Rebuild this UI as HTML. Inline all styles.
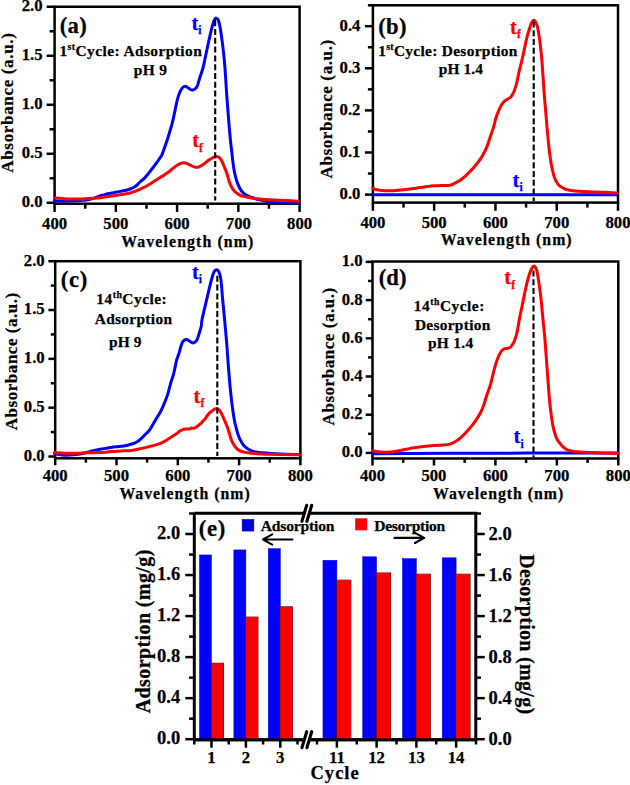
<!DOCTYPE html>
<html><head><meta charset="utf-8"><style>
html,body{margin:0;padding:0;background:#fff;}
text{stroke:#000;stroke-width:0.25px;}
body{width:630px;height:785px;position:relative;overflow:hidden;}
</style></head><body>
<svg width="630" height="785" viewBox="0 0 630 785" style="position:absolute;left:0;top:0">
<g font-family='"Liberation Serif", serif' font-weight="bold" style="paint-order:stroke">
<rect x="54.6" y="6.75" width="245.00000000000003" height="196.95" fill="none" stroke="#000" stroke-width="2.5"/>
<line x1="54.60" y1="203.70" x2="54.60" y2="211.90" stroke="#000" stroke-width="2.5" />
<line x1="85.23" y1="203.70" x2="85.23" y2="208.70" stroke="#000" stroke-width="2.5" />
<line x1="115.85" y1="203.70" x2="115.85" y2="211.90" stroke="#000" stroke-width="2.5" />
<line x1="146.48" y1="203.70" x2="146.48" y2="208.70" stroke="#000" stroke-width="2.5" />
<line x1="177.10" y1="203.70" x2="177.10" y2="211.90" stroke="#000" stroke-width="2.5" />
<line x1="207.73" y1="203.70" x2="207.73" y2="208.70" stroke="#000" stroke-width="2.5" />
<line x1="238.35" y1="203.70" x2="238.35" y2="211.90" stroke="#000" stroke-width="2.5" />
<line x1="268.98" y1="203.70" x2="268.98" y2="208.70" stroke="#000" stroke-width="2.5" />
<line x1="299.60" y1="203.70" x2="299.60" y2="211.90" stroke="#000" stroke-width="2.5" />
<text x="54.60" y="228.50" font-size="16.7" text-anchor="middle" fill="#000" >400</text>
<text x="115.85" y="228.50" font-size="16.7" text-anchor="middle" fill="#000" >500</text>
<text x="177.10" y="228.50" font-size="16.7" text-anchor="middle" fill="#000" >600</text>
<text x="238.35" y="228.50" font-size="16.7" text-anchor="middle" fill="#000" >700</text>
<text x="299.60" y="228.50" font-size="16.7" text-anchor="middle" fill="#000" >800</text>
<line x1="54.60" y1="202.80" x2="46.60" y2="202.80" stroke="#000" stroke-width="2.5" />
<line x1="54.60" y1="178.29" x2="49.60" y2="178.29" stroke="#000" stroke-width="2.5" />
<line x1="54.60" y1="153.79" x2="46.60" y2="153.79" stroke="#000" stroke-width="2.5" />
<line x1="54.60" y1="129.28" x2="49.60" y2="129.28" stroke="#000" stroke-width="2.5" />
<line x1="54.60" y1="104.78" x2="46.60" y2="104.78" stroke="#000" stroke-width="2.5" />
<line x1="54.60" y1="80.27" x2="49.60" y2="80.27" stroke="#000" stroke-width="2.5" />
<line x1="54.60" y1="55.76" x2="46.60" y2="55.76" stroke="#000" stroke-width="2.5" />
<line x1="54.60" y1="31.26" x2="49.60" y2="31.26" stroke="#000" stroke-width="2.5" />
<line x1="54.60" y1="6.75" x2="46.60" y2="6.75" stroke="#000" stroke-width="2.5" />
<text x="42.50" y="207.20" font-size="16.7" text-anchor="end" fill="#000" >0.0</text>
<text x="42.50" y="158.19" font-size="16.7" text-anchor="end" fill="#000" >0.5</text>
<text x="42.50" y="109.18" font-size="16.7" text-anchor="end" fill="#000" >1.0</text>
<text x="42.50" y="60.16" font-size="16.7" text-anchor="end" fill="#000" >1.5</text>
<text x="42.50" y="11.15" font-size="16.7" text-anchor="end" fill="#000" >2.0</text>
<rect x="372.9" y="5.3" width="245.10000000000002" height="197.29999999999998" fill="none" stroke="#000" stroke-width="2.5"/>
<line x1="372.90" y1="202.60" x2="372.90" y2="210.80" stroke="#000" stroke-width="2.5" />
<line x1="403.54" y1="202.60" x2="403.54" y2="207.60" stroke="#000" stroke-width="2.5" />
<line x1="434.17" y1="202.60" x2="434.17" y2="210.80" stroke="#000" stroke-width="2.5" />
<line x1="464.81" y1="202.60" x2="464.81" y2="207.60" stroke="#000" stroke-width="2.5" />
<line x1="495.45" y1="202.60" x2="495.45" y2="210.80" stroke="#000" stroke-width="2.5" />
<line x1="526.09" y1="202.60" x2="526.09" y2="207.60" stroke="#000" stroke-width="2.5" />
<line x1="556.73" y1="202.60" x2="556.73" y2="210.80" stroke="#000" stroke-width="2.5" />
<line x1="587.36" y1="202.60" x2="587.36" y2="207.60" stroke="#000" stroke-width="2.5" />
<line x1="618.00" y1="202.60" x2="618.00" y2="210.80" stroke="#000" stroke-width="2.5" />
<text x="372.90" y="227.60" font-size="16.7" text-anchor="middle" fill="#000" >400</text>
<text x="434.17" y="227.60" font-size="16.7" text-anchor="middle" fill="#000" >500</text>
<text x="495.45" y="227.60" font-size="16.7" text-anchor="middle" fill="#000" >600</text>
<text x="556.73" y="227.60" font-size="16.7" text-anchor="middle" fill="#000" >700</text>
<text x="618.00" y="227.60" font-size="16.7" text-anchor="middle" fill="#000" >800</text>
<line x1="372.90" y1="194.60" x2="364.90" y2="194.60" stroke="#000" stroke-width="2.5" />
<line x1="372.90" y1="173.55" x2="367.90" y2="173.55" stroke="#000" stroke-width="2.5" />
<line x1="372.90" y1="152.50" x2="364.90" y2="152.50" stroke="#000" stroke-width="2.5" />
<line x1="372.90" y1="131.45" x2="367.90" y2="131.45" stroke="#000" stroke-width="2.5" />
<line x1="372.90" y1="110.40" x2="364.90" y2="110.40" stroke="#000" stroke-width="2.5" />
<line x1="372.90" y1="89.35" x2="367.90" y2="89.35" stroke="#000" stroke-width="2.5" />
<line x1="372.90" y1="68.30" x2="364.90" y2="68.30" stroke="#000" stroke-width="2.5" />
<line x1="372.90" y1="47.25" x2="367.90" y2="47.25" stroke="#000" stroke-width="2.5" />
<line x1="372.90" y1="26.20" x2="364.90" y2="26.20" stroke="#000" stroke-width="2.5" />
<text x="360.40" y="199.00" font-size="16.7" text-anchor="end" fill="#000" >0.0</text>
<text x="360.40" y="156.90" font-size="16.7" text-anchor="end" fill="#000" >0.1</text>
<text x="360.40" y="114.80" font-size="16.7" text-anchor="end" fill="#000" >0.2</text>
<text x="360.40" y="72.70" font-size="16.7" text-anchor="end" fill="#000" >0.3</text>
<text x="360.40" y="30.60" font-size="16.7" text-anchor="end" fill="#000" >0.4</text>
<line x1="372.90" y1="5.30" x2="367.90" y2="5.30" stroke="#000" stroke-width="2.5" />
<rect x="55.2" y="261.2" width="245.2" height="197.10000000000002" fill="none" stroke="#000" stroke-width="2.5"/>
<line x1="55.20" y1="458.30" x2="55.20" y2="465.30" stroke="#000" stroke-width="2.5" />
<line x1="85.85" y1="458.30" x2="85.85" y2="462.70" stroke="#000" stroke-width="2.5" />
<line x1="116.50" y1="458.30" x2="116.50" y2="465.30" stroke="#000" stroke-width="2.5" />
<line x1="147.15" y1="458.30" x2="147.15" y2="462.70" stroke="#000" stroke-width="2.5" />
<line x1="177.80" y1="458.30" x2="177.80" y2="465.30" stroke="#000" stroke-width="2.5" />
<line x1="208.45" y1="458.30" x2="208.45" y2="462.70" stroke="#000" stroke-width="2.5" />
<line x1="239.10" y1="458.30" x2="239.10" y2="465.30" stroke="#000" stroke-width="2.5" />
<line x1="269.75" y1="458.30" x2="269.75" y2="462.70" stroke="#000" stroke-width="2.5" />
<line x1="300.40" y1="458.30" x2="300.40" y2="465.30" stroke="#000" stroke-width="2.5" />
<text x="55.20" y="481.30" font-size="16.7" text-anchor="middle" fill="#000" >400</text>
<text x="116.50" y="481.30" font-size="16.7" text-anchor="middle" fill="#000" >500</text>
<text x="177.80" y="481.30" font-size="16.7" text-anchor="middle" fill="#000" >600</text>
<text x="239.10" y="481.30" font-size="16.7" text-anchor="middle" fill="#000" >700</text>
<text x="300.40" y="481.30" font-size="16.7" text-anchor="middle" fill="#000" >800</text>
<line x1="55.20" y1="456.50" x2="48.40" y2="456.50" stroke="#000" stroke-width="2.5" />
<line x1="55.20" y1="432.09" x2="50.80" y2="432.09" stroke="#000" stroke-width="2.5" />
<line x1="55.20" y1="407.68" x2="48.40" y2="407.68" stroke="#000" stroke-width="2.5" />
<line x1="55.20" y1="383.26" x2="50.80" y2="383.26" stroke="#000" stroke-width="2.5" />
<line x1="55.20" y1="358.85" x2="48.40" y2="358.85" stroke="#000" stroke-width="2.5" />
<line x1="55.20" y1="334.44" x2="50.80" y2="334.44" stroke="#000" stroke-width="2.5" />
<line x1="55.20" y1="310.02" x2="48.40" y2="310.02" stroke="#000" stroke-width="2.5" />
<line x1="55.20" y1="285.61" x2="50.80" y2="285.61" stroke="#000" stroke-width="2.5" />
<line x1="55.20" y1="261.20" x2="48.40" y2="261.20" stroke="#000" stroke-width="2.5" />
<text x="44.70" y="460.90" font-size="16.7" text-anchor="end" fill="#000" >0.0</text>
<text x="44.70" y="412.07" font-size="16.7" text-anchor="end" fill="#000" >0.5</text>
<text x="44.70" y="363.25" font-size="16.7" text-anchor="end" fill="#000" >1.0</text>
<text x="44.70" y="314.42" font-size="16.7" text-anchor="end" fill="#000" >1.5</text>
<text x="44.70" y="265.60" font-size="16.7" text-anchor="end" fill="#000" >2.0</text>
<rect x="372.5" y="261.5" width="245.79999999999995" height="197.0" fill="none" stroke="#000" stroke-width="2.5"/>
<line x1="372.50" y1="458.50" x2="372.50" y2="465.50" stroke="#000" stroke-width="2.5" />
<line x1="403.23" y1="458.50" x2="403.23" y2="462.90" stroke="#000" stroke-width="2.5" />
<line x1="433.95" y1="458.50" x2="433.95" y2="465.50" stroke="#000" stroke-width="2.5" />
<line x1="464.67" y1="458.50" x2="464.67" y2="462.90" stroke="#000" stroke-width="2.5" />
<line x1="495.40" y1="458.50" x2="495.40" y2="465.50" stroke="#000" stroke-width="2.5" />
<line x1="526.12" y1="458.50" x2="526.12" y2="462.90" stroke="#000" stroke-width="2.5" />
<line x1="556.85" y1="458.50" x2="556.85" y2="465.50" stroke="#000" stroke-width="2.5" />
<line x1="587.57" y1="458.50" x2="587.57" y2="462.90" stroke="#000" stroke-width="2.5" />
<line x1="618.30" y1="458.50" x2="618.30" y2="465.50" stroke="#000" stroke-width="2.5" />
<text x="372.50" y="481.20" font-size="16.7" text-anchor="middle" fill="#000" >400</text>
<text x="433.95" y="481.20" font-size="16.7" text-anchor="middle" fill="#000" >500</text>
<text x="495.40" y="481.20" font-size="16.7" text-anchor="middle" fill="#000" >600</text>
<text x="556.85" y="481.20" font-size="16.7" text-anchor="middle" fill="#000" >700</text>
<text x="618.30" y="481.20" font-size="16.7" text-anchor="middle" fill="#000" >800</text>
<line x1="372.50" y1="452.90" x2="365.70" y2="452.90" stroke="#000" stroke-width="2.5" />
<line x1="372.50" y1="433.80" x2="368.10" y2="433.80" stroke="#000" stroke-width="2.5" />
<line x1="372.50" y1="414.70" x2="365.70" y2="414.70" stroke="#000" stroke-width="2.5" />
<line x1="372.50" y1="395.60" x2="368.10" y2="395.60" stroke="#000" stroke-width="2.5" />
<line x1="372.50" y1="376.50" x2="365.70" y2="376.50" stroke="#000" stroke-width="2.5" />
<line x1="372.50" y1="357.40" x2="368.10" y2="357.40" stroke="#000" stroke-width="2.5" />
<line x1="372.50" y1="338.30" x2="365.70" y2="338.30" stroke="#000" stroke-width="2.5" />
<line x1="372.50" y1="319.20" x2="368.10" y2="319.20" stroke="#000" stroke-width="2.5" />
<line x1="372.50" y1="300.10" x2="365.70" y2="300.10" stroke="#000" stroke-width="2.5" />
<line x1="372.50" y1="281.00" x2="368.10" y2="281.00" stroke="#000" stroke-width="2.5" />
<line x1="372.50" y1="261.90" x2="365.70" y2="261.90" stroke="#000" stroke-width="2.5" />
<text x="362.50" y="457.30" font-size="16.7" text-anchor="end" fill="#000" >0.0</text>
<text x="362.50" y="419.10" font-size="16.7" text-anchor="end" fill="#000" >0.2</text>
<text x="362.50" y="380.90" font-size="16.7" text-anchor="end" fill="#000" >0.4</text>
<text x="362.50" y="342.70" font-size="16.7" text-anchor="end" fill="#000" >0.6</text>
<text x="362.50" y="304.50" font-size="16.7" text-anchor="end" fill="#000" >0.8</text>
<text x="362.50" y="266.30" font-size="16.7" text-anchor="end" fill="#000" >1.0</text>
<g fill="none" stroke-width="3.0" stroke-linejoin="round" stroke-linecap="round">
<path d="M54.60,201.00 C55.83,201.05 59.43,201.28 62.00,201.30 C64.57,201.32 67.00,201.22 70.00,201.10 C73.00,200.98 77.33,200.78 80.00,200.60 C82.67,200.42 84.33,200.22 86.00,200.00 C87.67,199.78 88.50,199.67 90.00,199.30 C91.50,198.93 93.33,198.37 95.00,197.80 C96.67,197.23 98.50,196.38 100.00,195.90 C101.50,195.42 102.68,195.25 104.00,194.90 C105.32,194.55 105.92,194.25 107.90,193.80 C109.88,193.35 113.25,192.70 115.90,192.20 C118.55,191.70 121.42,191.33 123.80,190.80 C126.18,190.27 128.35,189.68 130.20,189.00 C132.05,188.32 133.65,187.48 134.90,186.70 C136.15,185.92 136.77,185.17 137.70,184.30 C138.63,183.43 139.45,182.45 140.50,181.50 C141.55,180.55 142.88,179.68 144.00,178.60 C145.12,177.52 146.13,176.27 147.20,175.00 C148.27,173.73 149.35,172.33 150.40,171.00 C151.45,169.67 152.45,168.38 153.50,167.00 C154.55,165.62 155.73,164.03 156.70,162.70 C157.67,161.37 158.45,160.27 159.30,159.00 C160.15,157.73 160.92,157.02 161.80,155.10 C162.68,153.18 163.62,150.27 164.60,147.50 C165.58,144.73 166.68,141.67 167.70,138.50 C168.72,135.33 169.90,131.25 170.70,128.50 C171.50,125.75 171.85,124.67 172.50,122.00 C173.15,119.33 173.92,115.70 174.60,112.50 C175.28,109.30 175.92,105.70 176.60,102.80 C177.28,99.90 178.02,97.15 178.70,95.10 C179.38,93.05 180.03,91.77 180.70,90.50 C181.37,89.23 181.93,88.20 182.70,87.50 C183.47,86.80 184.45,86.30 185.30,86.30 C186.15,86.30 186.95,86.97 187.80,87.50 C188.65,88.03 189.55,89.08 190.40,89.50 C191.25,89.92 192.05,90.17 192.90,90.00 C193.75,89.83 194.73,89.25 195.50,88.50 C196.27,87.75 196.92,86.85 197.50,85.50 C198.08,84.15 198.50,82.07 199.00,80.40 C199.50,78.73 199.82,77.65 200.50,75.50 C201.18,73.35 202.25,70.75 203.10,67.50 C203.95,64.25 204.75,59.95 205.60,56.00 C206.45,52.05 207.35,47.70 208.20,43.80 C209.05,39.90 209.93,35.83 210.70,32.60 C211.47,29.37 212.12,26.62 212.80,24.40 C213.48,22.18 214.22,20.35 214.80,19.30 C215.38,18.25 215.70,17.93 216.30,18.10 C216.90,18.27 217.80,18.92 218.40,20.30 C219.00,21.68 219.40,23.85 219.90,26.40 C220.40,28.95 220.88,32.02 221.40,35.60 C221.92,39.18 222.48,43.48 223.00,47.90 C223.52,52.32 224.07,57.25 224.50,62.10 C224.93,66.95 225.25,71.85 225.60,77.00 C225.95,82.15 226.23,87.67 226.60,93.00 C226.97,98.33 227.38,103.58 227.80,109.00 C228.22,114.42 228.65,120.17 229.10,125.50 C229.55,130.83 230.07,136.75 230.50,141.00 C230.93,145.25 231.30,147.52 231.70,151.00 C232.10,154.48 232.43,158.37 232.90,161.90 C233.37,165.43 233.90,169.15 234.50,172.20 C235.10,175.25 235.77,177.82 236.50,180.20 C237.23,182.58 238.03,184.65 238.90,186.50 C239.77,188.35 240.58,189.92 241.70,191.30 C242.82,192.68 244.02,193.82 245.60,194.80 C247.18,195.78 249.08,196.40 251.20,197.20 C253.32,198.00 255.78,198.93 258.30,199.60 C260.82,200.27 263.65,200.80 266.30,201.20 C268.95,201.60 270.92,201.78 274.20,202.00 C277.48,202.22 281.87,202.38 286.00,202.50 C290.13,202.62 296.83,202.67 299.00,202.70" stroke="#0000ff"/>
<path d="M54.60,198.00 C55.83,198.10 59.43,198.42 62.00,198.60 C64.57,198.78 67.00,199.03 70.00,199.10 C73.00,199.17 77.00,199.08 80.00,199.00 C83.00,198.92 85.50,198.73 88.00,198.60 C90.50,198.47 93.00,198.33 95.00,198.20 C97.00,198.07 97.85,198.07 100.00,197.80 C102.15,197.53 105.25,197.00 107.90,196.60 C110.55,196.20 113.25,195.80 115.90,195.40 C118.55,195.00 121.42,194.60 123.80,194.20 C126.18,193.80 128.35,193.47 130.20,193.00 C132.05,192.53 133.32,192.00 134.90,191.40 C136.48,190.80 138.15,190.08 139.70,189.40 C141.25,188.72 142.42,188.25 144.20,187.30 C145.98,186.35 148.32,184.95 150.40,183.70 C152.48,182.45 155.02,180.88 156.70,179.80 C158.38,178.72 159.12,178.10 160.50,177.20 C161.88,176.30 163.42,175.43 165.00,174.40 C166.58,173.37 168.53,172.12 170.00,171.00 C171.47,169.88 172.53,168.70 173.80,167.70 C175.07,166.70 176.33,165.77 177.60,165.00 C178.87,164.23 180.28,163.47 181.40,163.10 C182.52,162.73 183.35,162.72 184.30,162.80 C185.25,162.88 185.98,163.15 187.10,163.60 C188.22,164.05 189.72,164.92 191.00,165.50 C192.28,166.08 193.53,166.83 194.80,167.10 C196.07,167.37 197.33,167.45 198.60,167.10 C199.87,166.75 201.13,165.83 202.40,165.00 C203.67,164.17 204.93,163.05 206.20,162.10 C207.47,161.15 208.73,160.13 210.00,159.30 C211.27,158.47 212.68,157.58 213.80,157.10 C214.92,156.62 215.75,156.27 216.70,156.40 C217.65,156.53 218.63,157.10 219.50,157.90 C220.37,158.70 221.10,159.70 221.90,161.20 C222.70,162.70 223.45,164.80 224.30,166.90 C225.15,169.00 226.22,171.45 227.00,173.80 C227.78,176.15 228.28,178.88 229.00,181.00 C229.72,183.12 230.38,184.78 231.30,186.50 C232.22,188.22 233.30,189.98 234.50,191.30 C235.70,192.62 237.03,193.55 238.50,194.40 C239.97,195.25 241.58,195.87 243.30,196.40 C245.02,196.93 246.57,197.20 248.80,197.60 C251.03,198.00 254.05,198.50 256.70,198.80 C259.35,199.10 261.78,199.20 264.70,199.40 C267.62,199.60 270.65,199.80 274.20,200.00 C277.75,200.20 281.95,200.40 286.00,200.60 C290.05,200.80 296.42,201.10 298.50,201.20" stroke="#ff0000"/>
<path d="M372.90,194.70 C413.58,194.70 576.32,194.70 617.00,194.70" stroke="#0000ff"/>
<path d="M372.90,188.50 C373.58,188.72 375.48,189.47 377.00,189.80 C378.52,190.13 379.83,190.35 382.00,190.50 C384.17,190.65 387.67,190.70 390.00,190.70 C392.33,190.70 394.00,190.63 396.00,190.50 C398.00,190.37 399.98,190.12 402.00,189.90 C404.02,189.68 406.10,189.45 408.10,189.20 C410.10,188.95 412.02,188.67 414.00,188.40 C415.98,188.13 417.83,187.90 420.00,187.60 C422.17,187.30 424.70,186.90 427.00,186.60 C429.30,186.30 430.97,186.00 433.80,185.80 C436.63,185.60 441.30,185.50 444.00,185.40 C446.70,185.30 448.15,185.58 450.00,185.20 C451.85,184.82 453.40,183.92 455.10,183.10 C456.80,182.28 458.50,181.45 460.20,180.30 C461.90,179.15 463.60,177.73 465.30,176.20 C467.00,174.67 468.70,172.88 470.40,171.10 C472.10,169.32 473.82,167.53 475.50,165.50 C477.18,163.47 478.98,161.18 480.50,158.90 C482.02,156.62 483.40,154.18 484.60,151.80 C485.80,149.42 486.68,147.32 487.70,144.60 C488.72,141.88 489.68,138.55 490.70,135.50 C491.72,132.45 492.95,129.18 493.80,126.30 C494.65,123.42 494.98,120.82 495.80,118.20 C496.62,115.58 497.68,112.93 498.70,110.60 C499.72,108.27 500.90,105.80 501.90,104.20 C502.90,102.60 503.70,101.85 504.70,101.00 C505.70,100.15 506.83,99.83 507.90,99.10 C508.97,98.37 510.03,97.98 511.10,96.60 C512.17,95.22 513.35,93.15 514.30,90.80 C515.25,88.45 515.98,85.78 516.80,82.50 C517.62,79.22 518.37,74.70 519.20,71.10 C520.03,67.50 520.95,64.52 521.80,60.90 C522.65,57.28 523.47,53.23 524.30,49.40 C525.13,45.57 525.95,41.30 526.80,37.90 C527.65,34.50 528.65,31.43 529.40,29.00 C530.15,26.57 530.67,24.68 531.30,23.30 C531.93,21.92 532.68,21.18 533.20,20.70 C533.72,20.22 533.97,20.10 534.40,20.40 C534.83,20.70 535.25,21.27 535.80,22.50 C536.35,23.73 537.07,25.00 537.70,27.80 C538.33,30.60 538.95,34.43 539.60,39.30 C540.25,44.17 541.03,50.88 541.60,57.00 C542.17,63.12 542.55,69.67 543.00,76.00 C543.45,82.33 543.90,89.67 544.30,95.00 C544.70,100.33 545.05,103.83 545.40,108.00 C545.75,112.17 546.07,116.00 546.40,120.00 C546.73,124.00 547.03,128.00 547.40,132.00 C547.77,136.00 548.17,140.00 548.60,144.00 C549.03,148.00 549.47,152.17 550.00,156.00 C550.53,159.83 551.03,163.33 551.80,167.00 C552.57,170.67 553.65,175.25 554.60,178.00 C555.55,180.75 556.52,182.07 557.50,183.50 C558.48,184.93 559.13,185.65 560.50,186.60 C561.87,187.55 563.63,188.52 565.70,189.20 C567.77,189.88 568.13,190.25 572.90,190.70 C577.67,191.15 586.95,191.53 594.30,191.90 C601.65,192.27 613.22,192.73 617.00,192.90" stroke="#ff0000"/>
<path d="M54.60,453.90 C55.83,454.08 59.43,454.80 62.00,455.00 C64.57,455.20 67.33,455.22 70.00,455.10 C72.67,454.98 75.43,454.68 78.00,454.30 C80.57,453.92 83.07,453.35 85.40,452.80 C87.73,452.25 89.57,451.60 92.00,451.00 C94.43,450.40 97.35,449.70 100.00,449.20 C102.65,448.70 105.25,448.40 107.90,448.00 C110.55,447.60 113.25,447.13 115.90,446.80 C118.55,446.47 121.17,446.47 123.80,446.00 C126.43,445.53 129.45,444.72 131.70,444.00 C133.95,443.28 135.57,442.75 137.30,441.70 C139.03,440.65 140.65,439.03 142.10,437.70 C143.55,436.37 144.68,435.08 146.00,433.70 C147.32,432.32 148.42,431.70 150.00,429.40 C151.58,427.10 153.75,422.83 155.50,419.90 C157.25,416.97 158.98,414.68 160.50,411.80 C162.02,408.92 163.40,405.50 164.60,402.60 C165.80,399.70 166.68,397.63 167.70,394.40 C168.72,391.17 169.68,386.75 170.70,383.20 C171.72,379.65 172.83,376.88 173.80,373.10 C174.77,369.32 175.67,363.68 176.50,360.50 C177.33,357.32 178.18,355.95 178.80,354.00 C179.42,352.05 179.72,350.47 180.20,348.80 C180.68,347.13 181.13,345.35 181.70,344.00 C182.27,342.65 182.88,341.45 183.60,340.70 C184.32,339.95 185.22,339.58 186.00,339.50 C186.78,339.42 187.52,339.80 188.30,340.20 C189.08,340.60 189.90,341.45 190.70,341.90 C191.50,342.35 192.30,342.93 193.10,342.90 C193.90,342.87 194.78,342.38 195.50,341.70 C196.22,341.02 196.77,340.25 197.40,338.80 C198.03,337.35 198.67,335.05 199.30,333.00 C199.93,330.95 200.73,328.82 201.20,326.50 C201.67,324.18 201.43,322.53 202.10,319.10 C202.77,315.67 204.17,310.32 205.20,305.90 C206.23,301.48 207.28,296.85 208.30,292.60 C209.32,288.35 210.37,283.80 211.30,280.40 C212.23,277.00 213.05,273.98 213.90,272.20 C214.75,270.42 215.55,269.70 216.40,269.70 C217.25,269.70 218.23,270.42 219.00,272.20 C219.77,273.98 220.38,275.77 221.00,280.40 C221.62,285.03 222.17,294.18 222.70,300.00 C223.23,305.82 223.72,310.20 224.20,315.30 C224.68,320.40 225.15,325.50 225.60,330.60 C226.05,335.70 226.52,341.00 226.90,345.90 C227.28,350.80 227.60,355.93 227.90,360.00 C228.20,364.07 228.35,366.03 228.70,370.30 C229.05,374.57 229.52,380.50 230.00,385.60 C230.48,390.70 231.02,396.00 231.60,400.90 C232.18,405.80 232.95,411.37 233.50,415.00 C234.05,418.63 234.40,420.35 234.90,422.70 C235.40,425.05 235.92,426.97 236.50,429.10 C237.08,431.23 237.60,433.38 238.40,435.50 C239.20,437.62 240.18,439.90 241.30,441.80 C242.42,443.70 243.40,445.40 245.10,446.90 C246.80,448.40 249.17,449.88 251.50,450.80 C253.83,451.72 256.68,452.03 259.10,452.40 C261.52,452.77 262.52,452.73 266.00,453.00 C269.48,453.27 274.42,453.73 280.00,454.00 C285.58,454.27 296.25,454.50 299.50,454.60" stroke="#0000ff"/>
<path d="M54.60,452.60 C56.33,452.70 61.43,453.08 65.00,453.20 C68.57,453.32 72.17,453.37 76.00,453.30 C79.83,453.23 84.00,452.95 88.00,452.80 C92.00,452.65 96.68,452.53 100.00,452.40 C103.32,452.27 105.25,452.20 107.90,452.00 C110.55,451.80 113.25,451.40 115.90,451.20 C118.55,451.00 121.17,450.93 123.80,450.80 C126.43,450.67 129.05,450.73 131.70,450.40 C134.35,450.07 136.65,449.47 139.70,448.80 C142.75,448.13 146.53,447.32 150.00,446.40 C153.47,445.48 158.00,444.18 160.50,443.30 C163.00,442.42 163.62,441.88 165.00,441.10 C166.38,440.32 167.53,439.40 168.80,438.60 C170.07,437.80 171.33,437.10 172.60,436.30 C173.87,435.50 175.23,434.63 176.40,433.80 C177.57,432.97 178.53,431.98 179.60,431.30 C180.67,430.62 181.73,430.10 182.80,429.70 C183.87,429.30 184.95,429.02 186.00,428.90 C187.05,428.78 188.15,429.13 189.10,429.00 C190.05,428.87 190.85,428.25 191.70,428.10 C192.55,427.95 193.25,428.42 194.20,428.10 C195.15,427.78 196.33,426.93 197.40,426.20 C198.47,425.47 199.55,424.70 200.60,423.70 C201.65,422.70 202.95,421.02 203.70,420.20 C204.45,419.38 204.45,419.63 205.10,418.80 C205.75,417.97 206.75,416.27 207.60,415.20 C208.45,414.13 209.35,413.20 210.20,412.40 C211.05,411.60 211.87,410.98 212.70,410.40 C213.53,409.82 214.43,409.20 215.20,408.90 C215.97,408.60 216.62,408.43 217.30,408.60 C217.98,408.77 218.63,409.13 219.30,409.90 C219.97,410.67 220.62,411.88 221.30,413.20 C221.98,414.52 222.72,416.28 223.40,417.80 C224.08,419.32 224.73,420.73 225.40,422.30 C226.07,423.87 226.83,425.67 227.40,427.20 C227.97,428.73 228.33,429.98 228.80,431.50 C229.27,433.02 229.72,434.78 230.20,436.30 C230.68,437.82 230.92,438.92 231.70,440.60 C232.48,442.28 233.73,444.82 234.90,446.40 C236.07,447.98 237.00,449.10 238.70,450.10 C240.40,451.10 242.43,451.82 245.10,452.40 C247.77,452.98 251.22,453.28 254.70,453.60 C258.18,453.92 258.53,454.10 266.00,454.30 C273.47,454.50 293.92,454.72 299.50,454.80" stroke="#ff0000"/>
<path d="M372.50,453.80 C385.42,453.70 409.17,453.32 450.00,453.20 C490.83,453.08 589.58,453.12 617.50,453.10" stroke="#0000ff"/>
<path d="M372.50,450.60 C373.42,450.80 375.92,451.52 378.00,451.80 C380.08,452.08 382.83,452.27 385.00,452.30 C387.17,452.33 389.17,452.17 391.00,452.00 C392.83,451.83 394.22,451.60 396.00,451.30 C397.78,451.00 399.68,450.60 401.70,450.20 C403.72,449.80 406.05,449.30 408.10,448.90 C410.15,448.50 411.78,448.15 414.00,447.80 C416.22,447.45 418.10,447.17 421.40,446.80 C424.70,446.43 430.03,445.88 433.80,445.60 C437.57,445.32 441.30,445.35 444.00,445.10 C446.70,444.85 448.15,444.65 450.00,444.10 C451.85,443.55 453.40,442.78 455.10,441.80 C456.80,440.82 458.50,439.65 460.20,438.20 C461.90,436.75 463.60,434.88 465.30,433.10 C467.00,431.32 468.70,429.53 470.40,427.50 C472.10,425.47 473.82,423.35 475.50,420.90 C477.18,418.45 479.15,415.35 480.50,412.80 C481.85,410.25 482.57,408.48 483.60,405.60 C484.63,402.72 485.57,398.93 486.70,395.50 C487.83,392.07 489.30,388.72 490.40,385.00 C491.50,381.28 492.40,376.75 493.30,373.20 C494.20,369.65 494.90,366.57 495.80,363.70 C496.70,360.83 497.73,358.13 498.70,356.00 C499.67,353.87 500.60,352.12 501.60,350.90 C502.60,349.68 503.75,349.12 504.70,348.70 C505.65,348.28 506.33,348.67 507.30,348.40 C508.27,348.13 509.50,347.95 510.50,347.10 C511.50,346.25 512.45,344.90 513.30,343.30 C514.15,341.70 515.00,339.22 515.60,337.50 C516.20,335.78 516.47,334.92 516.90,333.00 C517.33,331.08 517.75,328.48 518.20,326.00 C518.65,323.52 518.88,321.75 519.60,318.10 C520.32,314.45 521.55,308.77 522.50,304.10 C523.45,299.43 524.32,294.55 525.30,290.10 C526.28,285.65 527.48,280.68 528.40,277.40 C529.32,274.12 530.05,272.17 530.80,270.40 C531.55,268.63 532.27,267.48 532.90,266.80 C533.53,266.12 533.98,265.78 534.60,266.30 C535.22,266.82 536.03,268.13 536.60,269.90 C537.17,271.67 537.52,274.08 538.00,276.90 C538.48,279.72 539.00,283.17 539.50,286.80 C540.00,290.43 540.58,295.05 541.00,298.70 C541.42,302.35 541.67,305.22 542.00,308.70 C542.33,312.18 542.67,316.13 543.00,319.60 C543.33,323.07 543.67,326.10 544.00,329.50 C544.33,332.90 544.65,335.75 545.00,340.00 C545.35,344.25 545.73,350.00 546.10,355.00 C546.47,360.00 546.82,364.83 547.20,370.00 C547.58,375.17 548.02,381.00 548.40,386.00 C548.78,391.00 549.10,395.75 549.50,400.00 C549.90,404.25 550.20,407.05 550.80,411.50 C551.40,415.95 552.08,422.12 553.10,426.70 C554.12,431.28 555.28,435.68 556.90,439.00 C558.52,442.32 560.95,444.73 562.80,446.60 C564.65,448.47 565.97,449.38 568.00,450.20 C570.03,451.02 572.07,451.17 575.00,451.50 C577.93,451.83 578.52,451.85 585.60,452.20 C592.68,452.55 612.18,453.37 617.50,453.60" stroke="#ff0000"/>
</g>
<line x1="215.20" y1="20.20" x2="215.20" y2="200.50" stroke="#000" stroke-width="2.1" stroke-dasharray="6 2.8"/>
<line x1="533.70" y1="21.40" x2="533.70" y2="201.00" stroke="#000" stroke-width="2.1" stroke-dasharray="6 2.8"/>
<line x1="217.30" y1="275.80" x2="217.30" y2="456.00" stroke="#000" stroke-width="2.1" stroke-dasharray="6 2.8"/>
<line x1="533.50" y1="270.40" x2="533.50" y2="457.00" stroke="#000" stroke-width="2.1" stroke-dasharray="6 2.8"/>
<text x="191.40" y="29.60" font-size="20.5" fill="#0000ff" style="stroke:#0000ff">t<tspan font-size="11.5" dy="4.6">i</tspan></text>
<text x="192.20" y="146.90" font-size="20.5" fill="#ff0000" style="stroke:#ff0000">t<tspan font-size="11.5" dy="4.6">f</tspan></text>
<text x="510.10" y="33.60" font-size="20.5" fill="#ff0000" style="stroke:#ff0000">t<tspan font-size="11.5" dy="4.6">f</tspan></text>
<text x="512.60" y="186.70" font-size="20.5" fill="#0000ff" style="stroke:#0000ff">t<tspan font-size="11.5" dy="4.6">i</tspan></text>
<text x="192.00" y="278.50" font-size="20.5" fill="#0000ff" style="stroke:#0000ff">t<tspan font-size="11.5" dy="4.6">i</tspan></text>
<text x="193.60" y="402.80" font-size="20.5" fill="#ff0000" style="stroke:#ff0000">t<tspan font-size="11.5" dy="4.6">f</tspan></text>
<text x="504.30" y="284.10" font-size="20.5" fill="#ff0000" style="stroke:#ff0000">t<tspan font-size="11.5" dy="4.6">f</tspan></text>
<text x="513.60" y="443.00" font-size="20.5" fill="#0000ff" style="stroke:#0000ff">t<tspan font-size="11.5" dy="4.6">i</tspan></text>
<path d="M194.3,513.3 H304.3 M309.3,513.3 H475.8 V739.7 H309.3 M304.3,739.7 H194.3 Z" fill="none" stroke="#000" stroke-width="3"/>
<line x1="194.30" y1="513.30" x2="194.30" y2="739.70" stroke="#000" stroke-width="3" />
<rect x="199.46" y="554.95" width="12.04" height="184.25" fill="#0000ff" stroke="#0000c0" stroke-width="0.5"/>
<rect x="211.50" y="663.28" width="12.04" height="75.92" fill="#ff0000" stroke="#500000" stroke-width="1.0"/>
<rect x="233.86" y="549.92" width="12.04" height="189.28" fill="#0000ff" stroke="#0000c0" stroke-width="0.5"/>
<rect x="245.90" y="617.12" width="12.04" height="122.08" fill="#ff0000" stroke="#500000" stroke-width="1.0"/>
<rect x="268.26" y="548.69" width="12.04" height="190.51" fill="#0000ff" stroke="#0000c0" stroke-width="0.5"/>
<rect x="280.30" y="606.86" width="12.04" height="132.34" fill="#ff0000" stroke="#500000" stroke-width="1.0"/>
<rect x="322.96" y="560.28" width="13.91" height="178.92" fill="#0000ff" stroke="#0000c0" stroke-width="0.5"/>
<rect x="336.88" y="580.18" width="13.91" height="159.02" fill="#ff0000" stroke="#500000" stroke-width="1.0"/>
<rect x="362.71" y="556.79" width="13.91" height="182.41" fill="#0000ff" stroke="#0000c0" stroke-width="0.5"/>
<rect x="376.62" y="573.00" width="13.91" height="166.20" fill="#ff0000" stroke="#500000" stroke-width="1.0"/>
<rect x="402.46" y="558.64" width="13.91" height="180.56" fill="#0000ff" stroke="#0000c0" stroke-width="0.5"/>
<rect x="416.38" y="574.23" width="13.91" height="164.97" fill="#ff0000" stroke="#500000" stroke-width="1.0"/>
<rect x="442.21" y="557.82" width="13.91" height="181.38" fill="#0000ff" stroke="#0000c0" stroke-width="0.5"/>
<rect x="456.12" y="574.23" width="13.91" height="164.97" fill="#ff0000" stroke="#500000" stroke-width="1.0"/>
<path d="M194.3,739.7 H304.3 M309.3,739.7 H475.8" fill="none" stroke="#000" stroke-width="3"/>
<line x1="194.30" y1="739.20" x2="185.30" y2="739.20" stroke="#000" stroke-width="2.5" />
<line x1="475.80" y1="739.20" x2="484.80" y2="739.20" stroke="#000" stroke-width="2.5" />
<line x1="194.30" y1="718.68" x2="189.10" y2="718.68" stroke="#000" stroke-width="2.5" />
<line x1="475.80" y1="718.68" x2="481.00" y2="718.68" stroke="#000" stroke-width="2.5" />
<line x1="194.30" y1="698.16" x2="185.30" y2="698.16" stroke="#000" stroke-width="2.5" />
<line x1="475.80" y1="698.16" x2="484.80" y2="698.16" stroke="#000" stroke-width="2.5" />
<line x1="194.30" y1="677.65" x2="189.10" y2="677.65" stroke="#000" stroke-width="2.5" />
<line x1="475.80" y1="677.65" x2="481.00" y2="677.65" stroke="#000" stroke-width="2.5" />
<line x1="194.30" y1="657.13" x2="185.30" y2="657.13" stroke="#000" stroke-width="2.5" />
<line x1="475.80" y1="657.13" x2="484.80" y2="657.13" stroke="#000" stroke-width="2.5" />
<line x1="194.30" y1="636.61" x2="189.10" y2="636.61" stroke="#000" stroke-width="2.5" />
<line x1="475.80" y1="636.61" x2="481.00" y2="636.61" stroke="#000" stroke-width="2.5" />
<line x1="194.30" y1="616.09" x2="185.30" y2="616.09" stroke="#000" stroke-width="2.5" />
<line x1="475.80" y1="616.09" x2="484.80" y2="616.09" stroke="#000" stroke-width="2.5" />
<line x1="194.30" y1="595.57" x2="189.10" y2="595.57" stroke="#000" stroke-width="2.5" />
<line x1="475.80" y1="595.57" x2="481.00" y2="595.57" stroke="#000" stroke-width="2.5" />
<line x1="194.30" y1="575.05" x2="185.30" y2="575.05" stroke="#000" stroke-width="2.5" />
<line x1="475.80" y1="575.05" x2="484.80" y2="575.05" stroke="#000" stroke-width="2.5" />
<line x1="194.30" y1="554.54" x2="189.10" y2="554.54" stroke="#000" stroke-width="2.5" />
<line x1="475.80" y1="554.54" x2="481.00" y2="554.54" stroke="#000" stroke-width="2.5" />
<line x1="194.30" y1="534.02" x2="185.30" y2="534.02" stroke="#000" stroke-width="2.5" />
<line x1="475.80" y1="534.02" x2="484.80" y2="534.02" stroke="#000" stroke-width="2.5" />
<line x1="194.30" y1="513.50" x2="189.10" y2="513.50" stroke="#000" stroke-width="2.5" />
<line x1="475.80" y1="513.50" x2="481.00" y2="513.50" stroke="#000" stroke-width="2.5" />
<text x="180.20" y="744.00" font-size="18.5" text-anchor="end" fill="#000" >0.0</text>
<text x="488.60" y="744.80" font-size="18.5" text-anchor="start" fill="#000" >0.0</text>
<text x="180.20" y="702.96" font-size="18.5" text-anchor="end" fill="#000" >0.4</text>
<text x="488.60" y="703.76" font-size="18.5" text-anchor="start" fill="#000" >0.4</text>
<text x="180.20" y="661.93" font-size="18.5" text-anchor="end" fill="#000" >0.8</text>
<text x="488.60" y="662.73" font-size="18.5" text-anchor="start" fill="#000" >0.8</text>
<text x="180.20" y="620.89" font-size="18.5" text-anchor="end" fill="#000" >1.2</text>
<text x="488.60" y="621.69" font-size="18.5" text-anchor="start" fill="#000" >1.2</text>
<text x="180.20" y="579.85" font-size="18.5" text-anchor="end" fill="#000" >1.6</text>
<text x="488.60" y="580.65" font-size="18.5" text-anchor="start" fill="#000" >1.6</text>
<text x="180.20" y="538.82" font-size="18.5" text-anchor="end" fill="#000" >2.0</text>
<text x="488.60" y="539.62" font-size="18.5" text-anchor="start" fill="#000" >2.0</text>
<line x1="194.30" y1="739.70" x2="194.30" y2="744.50" stroke="#000" stroke-width="2.5" />
<line x1="211.50" y1="739.70" x2="211.50" y2="747.70" stroke="#000" stroke-width="2.5" />
<line x1="228.70" y1="739.70" x2="228.70" y2="744.50" stroke="#000" stroke-width="2.5" />
<line x1="245.90" y1="739.70" x2="245.90" y2="747.70" stroke="#000" stroke-width="2.5" />
<line x1="263.10" y1="739.70" x2="263.10" y2="744.50" stroke="#000" stroke-width="2.5" />
<line x1="280.30" y1="739.70" x2="280.30" y2="747.70" stroke="#000" stroke-width="2.5" />
<line x1="297.50" y1="739.70" x2="297.50" y2="744.50" stroke="#000" stroke-width="2.5" />
<line x1="317.00" y1="739.70" x2="317.00" y2="744.50" stroke="#000" stroke-width="2.5" />
<line x1="336.88" y1="739.70" x2="336.88" y2="747.70" stroke="#000" stroke-width="2.5" />
<line x1="356.75" y1="739.70" x2="356.75" y2="744.50" stroke="#000" stroke-width="2.5" />
<line x1="376.62" y1="739.70" x2="376.62" y2="747.70" stroke="#000" stroke-width="2.5" />
<line x1="396.50" y1="739.70" x2="396.50" y2="744.50" stroke="#000" stroke-width="2.5" />
<line x1="416.38" y1="739.70" x2="416.38" y2="747.70" stroke="#000" stroke-width="2.5" />
<line x1="436.25" y1="739.70" x2="436.25" y2="744.50" stroke="#000" stroke-width="2.5" />
<line x1="456.12" y1="739.70" x2="456.12" y2="747.70" stroke="#000" stroke-width="2.5" />
<line x1="476.00" y1="739.70" x2="476.00" y2="744.50" stroke="#000" stroke-width="2.5" />
<text x="211.50" y="762.60" font-size="16.8" text-anchor="middle" fill="#000" >1</text>
<text x="245.90" y="762.60" font-size="16.8" text-anchor="middle" fill="#000" >2</text>
<text x="280.30" y="762.60" font-size="16.8" text-anchor="middle" fill="#000" >3</text>
<text x="336.88" y="762.60" font-size="16.8" text-anchor="middle" fill="#000" >11</text>
<text x="376.62" y="762.60" font-size="16.8" text-anchor="middle" fill="#000" >12</text>
<text x="416.38" y="762.60" font-size="16.8" text-anchor="middle" fill="#000" >13</text>
<text x="456.12" y="762.60" font-size="16.8" text-anchor="middle" fill="#000" >14</text>
<line x1="301.90" y1="521.30" x2="306.70" y2="505.30" stroke="#000" stroke-width="3.1" stroke-linecap="round"/>
<line x1="306.90" y1="521.30" x2="311.70" y2="505.30" stroke="#000" stroke-width="3.1" stroke-linecap="round"/>
<line x1="301.90" y1="747.70" x2="306.70" y2="731.70" stroke="#000" stroke-width="3.1" stroke-linecap="round"/>
<line x1="306.90" y1="747.70" x2="311.70" y2="731.70" stroke="#000" stroke-width="3.1" stroke-linecap="round"/>
<rect x="242.1" y="519.4" width="11.8" height="11.7" fill="#0000d4" stroke="#000090" stroke-width="0.5"/>
<rect x="355.2" y="518.3" width="12" height="12" fill="#ff0000"/>
<path d="M263,539.5 H292.4 M272.2,534.4 L263,539.5 L272.2,544.6" fill="none" stroke="#000" stroke-width="2.1" stroke-linecap="round" stroke-linejoin="round"/>
<path d="M394.6,537.9 H424.2 M415,532.8 L424.2,537.9 L415,543" fill="none" stroke="#000" stroke-width="2.1" stroke-linecap="round" stroke-linejoin="round"/>
<text x="59.70" y="32.50" font-size="22.60" letter-spacing="0.410">(a)</text>
<text x="59.40" y="55.85" font-size="15.40" letter-spacing="0.431">1<tspan font-size="9.86" dy="-6">st</tspan><tspan dy="6">Cycle: Adsorption</tspan></text>
<text x="133.85" y="74.65" font-size="15.40" letter-spacing="0.330">pH 9</text>
<text transform="translate(13.10,172.70) rotate(-90)" font-size="17.00" letter-spacing="0.667">Absorbance (a.u.)</text>
<text x="121.30" y="246.90" font-size="15.80" letter-spacing="1.116">Wavelength (nm)</text>
<text x="378.20" y="34.40" font-size="22.60" letter-spacing="0.410">(b)</text>
<text x="378.15" y="55.85" font-size="15.40" letter-spacing="0.312">1<tspan font-size="9.86" dy="-6">st</tspan><tspan dy="6">Cycle: Desorption</tspan></text>
<text x="438.80" y="74.25" font-size="15.40" letter-spacing="0.120">pH 1.4</text>
<text transform="translate(332.40,178.50) rotate(-90)" font-size="17.00" letter-spacing="0.611">Absorbance (a.u.)</text>
<text x="440.80" y="245.00" font-size="15.80" letter-spacing="1.039">Wavelength (nm)</text>
<text x="60.80" y="287.15" font-size="22.60" letter-spacing="0.680">(c)</text>
<text x="96.25" y="304.10" font-size="15.40" letter-spacing="0.490">14<tspan font-size="9.86" dy="-6">th</tspan><tspan dy="6">Cycle:</tspan></text>
<text x="94.75" y="324.00" font-size="15.40" letter-spacing="0.310">Adsorption</text>
<text x="109.10" y="347.30" font-size="15.40" letter-spacing="0.060">pH 9</text>
<text transform="translate(17.30,430.20) rotate(-90)" font-size="17.00" letter-spacing="0.533">Absorbance (a.u.)</text>
<text x="119.40" y="499.30" font-size="15.80" letter-spacing="1.000">Wavelength (nm)</text>
<text x="378.80" y="284.60" font-size="22.60" letter-spacing="0.050">(d)</text>
<text x="413.85" y="310.50" font-size="15.40" letter-spacing="0.490">14<tspan font-size="9.86" dy="-6">th</tspan><tspan dy="6">Cycle:</tspan></text>
<text x="414.90" y="329.65" font-size="15.40" letter-spacing="0.300">Desorption</text>
<text x="428.00" y="348.00" font-size="15.40" letter-spacing="0.300">pH 1.4</text>
<text transform="translate(333.70,425.40) rotate(-90)" font-size="17.00" letter-spacing="0.544">Absorbance (a.u.)</text>
<text x="433.00" y="499.40" font-size="15.80" letter-spacing="1.000">Wavelength (nm)</text>
<text x="198.70" y="536.30" font-size="22.60" letter-spacing="0.770">(e)</text>
<text x="260.70" y="531.20" font-size="15.60" letter-spacing="-0.180">Adsorption</text>
<text x="374.30" y="530.80" font-size="15.60" letter-spacing="-0.320">Desorption</text>
<text transform="translate(150.20,713.30) rotate(-90)" font-size="20.00" letter-spacing="0.402">Adsorption (mg/g)</text>
<text transform="translate(519.90,554.30) rotate(90)" font-size="20.00" letter-spacing="0.304">Desorption (mg/g)</text>
<text x="310.50" y="779.30" font-size="18.50" letter-spacing="1.010">Cycle</text>
</g></svg>
</body></html>
